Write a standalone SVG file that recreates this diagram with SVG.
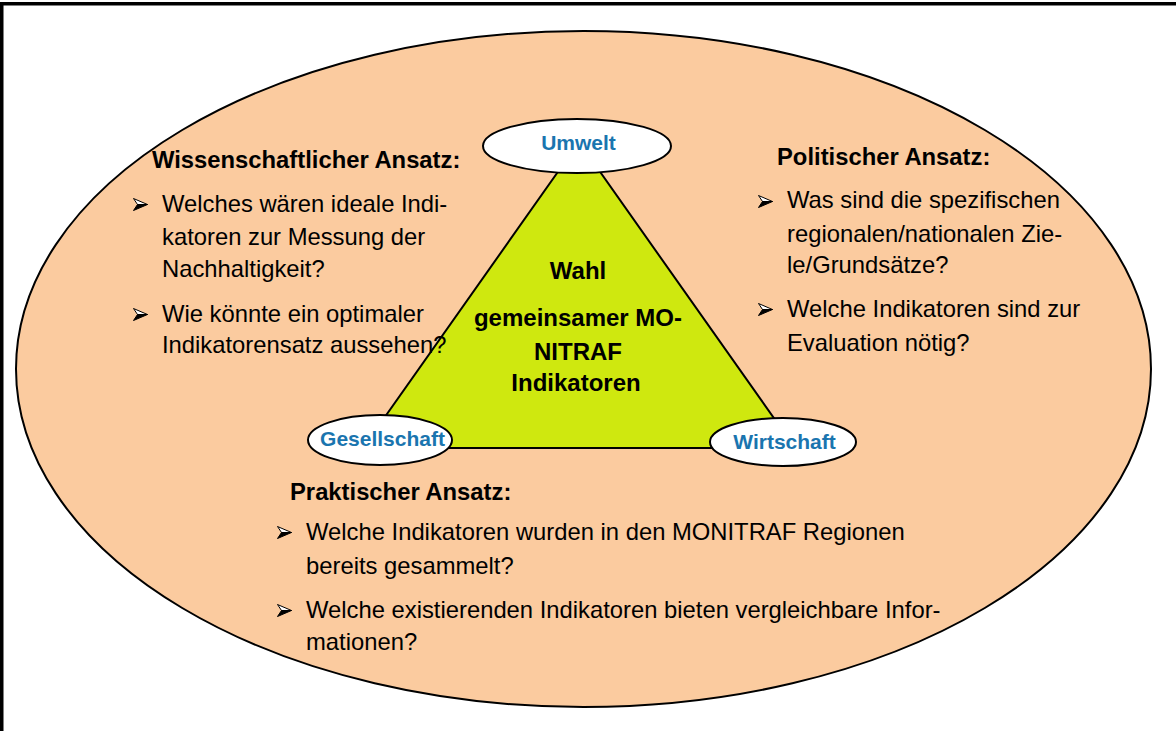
<svg xmlns="http://www.w3.org/2000/svg" width="1176" height="731" viewBox="0 0 1176 731">
  <style>
    .frame { fill: none; stroke: #000; stroke-width: 3.5; }
    .outer { fill: #FBCB9F; stroke: #000; stroke-width: 2; }
    .tri { fill: #CFE80F; stroke: #000; stroke-width: 2; stroke-linejoin: miter; }
    .pillar { fill: #FFFFFF; stroke: #000; stroke-width: 2; }
    .pillar-label { font-family: "Liberation Sans", Arial, sans-serif; font-weight: bold; font-size: 21px; fill: #1A75AF; text-anchor: middle; }
    .head { font-family: "Liberation Sans", Arial, sans-serif; font-weight: bold; font-size: 23.8px; fill: #000; }
    .body { font-family: "Liberation Sans", Arial, sans-serif; font-size: 23.8px; fill: #000; }
    .center { font-family: "Liberation Sans", Arial, sans-serif; font-weight: bold; font-size: 24px; fill: #000; text-anchor: middle; }
  </style>
  <defs>
    <!-- arrowhead bullet: light upper half, dark lower half -->
    <symbol id="bullet" viewBox="0 0 15 13" overflow="visible">
      <polygon points="0.5,0.5 14.5,6.5 4.5,6.5" fill="#FFFFFF" stroke="#000" stroke-width="1"/>
      <polygon points="4.5,6.5 14.5,6.5 0.5,12.5" fill="#000" stroke="#000" stroke-width="1" stroke-linejoin="round"/>
    </symbol>
  </defs>

  <rect width="1176" height="731" fill="#FFFFFF"/>
  <path class="frame" d="M1.75,731 V3.75 H1176"/>

  <!-- background oval -->
  <g id="outer">
    <ellipse class="outer" cx="583.5" cy="369" rx="567.5" ry="338"/>
  </g>

  <!-- central triangle -->
  <g id="triangle">
    <polygon class="tri" points="579,142 363,448 795,448"/>
    <text class="center" x="578" y="279">Wahl</text>
    <text class="center" x="578" y="326">gemeinsamer MO-</text>
    <text class="center" x="578" y="360">NITRAF</text>
    <text class="center" x="576" y="391">Indikatoren</text>
  </g>

  <!-- pillar nodes -->
  <g id="umwelt">
    <ellipse class="pillar" cx="577" cy="146" rx="94" ry="27"/>
    <text class="pillar-label" x="578.5" y="150">Umwelt</text>
  </g>
  <g id="gesellschaft">
    <ellipse class="pillar" cx="380" cy="440" rx="72" ry="25"/>
    <text class="pillar-label" x="382.5" y="446">Gesellschaft</text>
  </g>
  <g id="wirtschaft">
    <ellipse class="pillar" cx="783" cy="442" rx="73" ry="24"/>
    <text class="pillar-label" x="784.5" y="449">Wirtschaft</text>
  </g>

  <!-- scientific approach -->
  <g id="wissenschaftlich">
    <text class="head" x="152" y="168">Wissenschaftlicher Ansatz:</text>
    <use href="#bullet" x="133" y="198" width="15" height="13"/>
    <text class="body" x="162" y="212">Welches wären ideale Indi-</text>
    <text class="body" x="162" y="245">katoren zur Messung der</text>
    <text class="body" x="162" y="277">Nachhaltigkeit?</text>
    <use href="#bullet" x="133" y="308" width="15" height="13"/>
    <text class="body" x="162" y="322">Wie könnte ein optimaler</text>
    <text class="body" x="162" y="353">Indikatorensatz aussehen?</text>
  </g>

  <!-- political approach -->
  <g id="politisch">
    <text class="head" x="777" y="165">Politischer Ansatz:</text>
    <use href="#bullet" x="758" y="195" width="15" height="13"/>
    <text class="body" x="787" y="208">Was sind die spezifischen</text>
    <text class="body" x="787" y="242">regionalen/nationalen Zie-</text>
    <text class="body" x="787" y="273">le/Grundsätze?</text>
    <use href="#bullet" x="758" y="303" width="15" height="13"/>
    <text class="body" x="787" y="317">Welche Indikatoren sind zur</text>
    <text class="body" x="787" y="351">Evaluation nötig?</text>
  </g>

  <!-- practical approach -->
  <g id="praktisch">
    <text class="head" x="290" y="500">Praktischer Ansatz:</text>
    <use href="#bullet" x="277" y="526" width="15" height="13"/>
    <text class="body" x="306" y="540">Welche Indikatoren wurden in den MONITRAF Regionen</text>
    <text class="body" x="306" y="574">bereits gesammelt?</text>
    <use href="#bullet" x="277" y="604" width="15" height="13"/>
    <text class="body" x="306" y="618">Welche existierenden Indikatoren bieten vergleichbare Infor-</text>
    <text class="body" x="306" y="650">mationen?</text>
  </g>
</svg>
